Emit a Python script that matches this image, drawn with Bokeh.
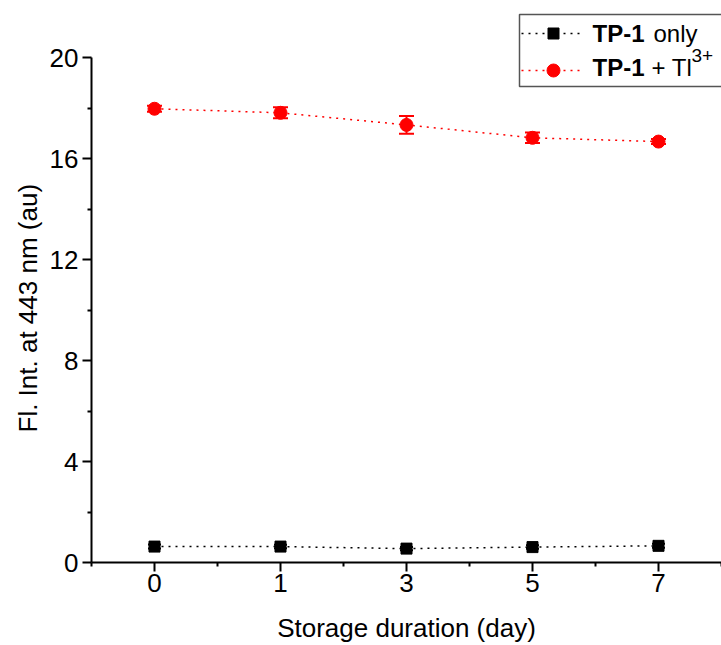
from bokeh.plotting import figure
from bokeh.models import (Range1d, FixedTicker, ColumnDataSource, Whisker, TeeHead, Title)
from bokeh.core.properties import value
from bokeh.embed import file_html
from bokeh.resources import INLINE

# ---- data ----
days = ["0", "1", "3", "5", "7"]
tp1_only = [0.63, 0.63, 0.55, 0.61, 0.66]
tp1_only_err = [0.08, 0.07, 0.06, 0.07, 0.08]
tp1_tl = [17.97, 17.81, 17.33, 16.82, 16.67]
tp1_tl_err = [0.12, 0.22, 0.35, 0.21, 0.10]
y_ticks = [0, 4, 8, 12, 16, 20]
y_minor = [2, 6, 10, 14, 18]
x_title = "Storage duration (day)"
y_title = "Fl. Int. at 443 nm (au)"

FONT = "Liberation Sans"
idx = list(range(len(days)))

# layout (pixels)
W, H = 721, 645
L, T, B = 91, 5, 83
frame_h = H - T - B
px_per_y = 505 / 20.0
ymax = frame_h / px_per_y

p = figure(width=W, height=H, output_backend="svg", toolbar_location=None,
           x_range=Range1d(-0.5, len(days) - 0.5), y_range=Range1d(0, ymax),
           min_border_left=L, min_border_right=0, min_border_top=T,
           min_border_bottom=B)
p.outline_line_color = None
p.grid.visible = False
p.background_fill_color = "white"
p.border_fill_color = "white"

# axes
p.xaxis.ticker = FixedTicker(ticks=idx, minor_ticks=[i - 0.5 for i in range(len(days) + 1)])
p.xaxis.major_label_overrides = {i: d for i, d in zip(idx, days)}
p.yaxis.ticker = FixedTicker(ticks=y_ticks, minor_ticks=y_minor)
p.yaxis.bounds = (0, 20)
for ax in (p.xaxis[0], p.yaxis[0]):
    ax.axis_line_width = 2
    ax.axis_line_color = "black"
    ax.major_tick_line_width = 2
    ax.minor_tick_line_width = 2
    ax.major_tick_in = 0
    ax.minor_tick_in = 0
    ax.major_tick_out = 9
    ax.minor_tick_out = 4
    ax.major_label_text_font = FONT
    ax.major_label_text_font_size = "26px"
    ax.major_label_text_color = "black"
    ax.axis_label_text_font = FONT
    ax.axis_label_text_font_size = "26px"
    ax.axis_label_text_font_style = "normal"
    ax.axis_label_text_color = "black"
p.xaxis.axis_label = x_title
p.xaxis.major_label_standoff = 2
p.yaxis.major_label_standoff = 4
p.xaxis.axis_label_standoff = 18

# y-axis title as a side title, positioned along the 0-20 part of the axis
p.add_layout(Title(text=y_title, align="left", offset=130, text_font=FONT,
                   text_font_size="26px", text_font_style="normal",
                   text_color="black", standoff=8), "left")


def dx(px):
    return (px - L) / (630 / len(days)) - 0.5


def dy(py):
    return (562 - py) / px_per_y


# data sources
src_b = ColumnDataSource(dict(x=idx, y=tp1_only,
                              lo=[v - e for v, e in zip(tp1_only, tp1_only_err)],
                              hi=[v + e for v, e in zip(tp1_only, tp1_only_err)]))
src_r = ColumnDataSource(dict(x=idx, y=tp1_tl,
                              lo=[v - e for v, e in zip(tp1_tl, tp1_tl_err)],
                              hi=[v + e for v, e in zip(tp1_tl, tp1_tl_err)]))

DASH = "2 5"
# black series
p.line("x", "y", source=src_b, line_color="black", line_width=1.5, line_dash=DASH)
p.add_layout(Whisker(source=src_b, base="x", lower="lo", upper="hi", dimension="height",
                     line_color="black", line_width=2,
                     upper_head=TeeHead(size=13, line_color="black", line_width=2),
                     lower_head=TeeHead(size=13, line_color="black", line_width=2)))
p.scatter("x", "y", source=src_b, marker="square", size=11, fill_color="black", line_color="black")

# red series
p.line("x", "y", source=src_r, line_color="red", line_width=1.5, line_dash=DASH)
p.add_layout(Whisker(source=src_r, base="x", lower="lo", upper="hi", dimension="height",
                     line_color="red", line_width=2,
                     upper_head=TeeHead(size=15, line_color="red", line_width=2),
                     lower_head=TeeHead(size=15, line_color="red", line_width=2)))
p.scatter("x", "y", source=src_r, marker="circle", size=13, fill_color="red", line_color="red")

# ---- manual legend ----
p.quad(left=[dx(519)], right=[dx(740)], top=[dy(14)], bottom=[dy(86)],
       fill_color="white", line_color="#555555", line_width=1.5)
p.line([dx(521), dx(583)], [dy(33), dy(33)], line_color="black", line_width=1.5, line_dash=DASH)
p.scatter([dx(553)], [dy(33)], marker="square", size=11, fill_color="black", line_color="black")
p.line([dx(521), dx(583)], [dy(70), dy(70)], line_color="red", line_width=1.5, line_dash=DASH)
p.scatter([dx(553)], [dy(70)], marker="circle", size=13, fill_color="red", line_color="red")


def txt(px, py, s, size="24px", style="normal"):
    p.text([dx(px)], [dy(py)], text=[s], text_font=value(FONT), text_font_size=size,
           text_font_style=style, text_baseline="alphabetic", text_align="left",
           text_color="black")


txt(592, 33, "TP-1", style="bold")
txt(653, 33, "only")
txt(592, 67, "TP-1", style="bold")
txt(651, 67, "+ Tl")
txt(691, 55, "3+", size="19px")

open("out.html", "w").write(file_html(p, INLINE))
